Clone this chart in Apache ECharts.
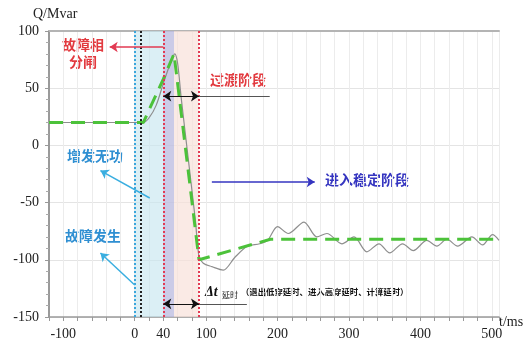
<!DOCTYPE html>
<html><head><meta charset="utf-8">
<script src="https://cdn.jsdelivr.net/npm/echarts@6/dist/echarts.min.js"></script>
<style>html,body{margin:0;padding:0;background:#fff}#c{width:528px;height:345px}</style>
</head><body><div id="c"></div>
<script>
// ---- data ----
const xTickLabels = [-100, 0, 40, 100, 200, 300, 400, 500];
const yTickLabels = [-150, -100, -50, 0, 50, 100];
const idealT = [-120, 12, 40, 55, 90, 190, 510];
const idealQ = [20, 20, 58, 80, -100, -82, -82];
const actualT = [-120, 12, 20, 30, 40, 50, 56, 60, 65, 75, 85, 90, 96, 108, 124, 140, 158, 175, 186, 200, 215, 237, 255, 269, 290, 307, 325, 342, 357, 375, 390, 409, 423, 437, 452, 472, 487, 501, 510];
const actualQ = [20, 20, 24, 35, 54, 72, 80, 72, 42, -12, -66, -97, -103, -106, -109, -98, -88, -86, -83, -71, -77, -67, -80, -77, -86, -80, -93, -86, -94, -86, -92, -83, -88, -82, -88, -80, -87, -78, -83];
const bandRanges = [[0, 40], [40, 55], [55, 90]];
const markerTimes = [0, 8, 40, 90];

const bandColors = ['rgba(200,230,240,0.65)', 'rgba(190,190,225,0.8)', 'rgba(248,225,218,0.7)'];
const markerColors = ['#3aa6dc', '#222222', '#e23a52', '#e23a52'];

const chart = echarts.init(document.getElementById('c'));
const serif = '"Liberation Serif", "DejaVu Serif", serif';
const cjk = '"Noto Sans CJK SC", sans-serif';

function zip(a, b) { return a.map((v, i) => [v, b[i]]); }

const arrowLines = [
  // fault phase open arrow (to left)
  {coords: [[40, 86], [-35, 86]], color: '#e23a52', sym: ['none', 'arrow'], w: 1.5},
  // 增发无功 arrow
  {coords: [[21, -46], [-48, -22]], color: '#3aaee0', sym: ['none', 'arrow'], w: 1.5},
  // 故障发生 arrow
  {coords: [[0, -122], [-48, -94]], color: '#3aaee0', sym: ['none', 'arrow'], w: 1.5},
  // 进入稳定阶段 arrow
  {coords: [[108, -32], [252, -32]], color: '#3535c0', sym: ['none', 'arrow'], w: 1.5},
  // transition double arrow
  {coords: [[40, 43], [90, 43]], color: '#111', sym: ['arrow', 'arrow'], w: 1.2},
  {coords: [[90, 43], [189, 43]], color: '#555', sym: ['none', 'none'], w: 1.2},
  // delay double arrow
  {coords: [[40, -138.5], [90, -138.5]], color: '#111', sym: ['arrow', 'arrow'], w: 1.2},
  {coords: [[90, -138.5], [157, -138.5]], color: '#555', sym: ['none', 'none'], w: 1.2}
];

const option = {
  animation: false,
  grid: {left: 49, right: 29, top: 31, bottom: 28},
  xAxis: [{
    type: 'value', min: -120, max: 510, interval: 20,
    axisLine: {show: true, onZero: false, lineStyle: {color: '#9a9a9a', width: 1.5}},
    axisTick: {show: true, length: 4, lineStyle: {color: '#999'}},
    axisLabel: {
      color: '#222', fontFamily: serif, fontSize: 14, margin: 10,
      formatter: v => xTickLabels.includes(Math.round(v)) ? String(Math.round(v)) : ''
    },
    splitLine: {show: true, lineStyle: {color: '#ececec', width: 1}}
  }, {
    type: 'value', position: 'top', min: -120, max: 510,
    axisLine: {show: true, onZero: false, lineStyle: {color: '#b4b4b4', width: 2}},
    axisTick: {show: false}, axisLabel: {show: false}, splitLine: {show: false}
  }],
  yAxis: {
    type: 'value', min: -150, max: 100, interval: 50,
    axisLine: {show: true, onZero: false, lineStyle: {color: '#9a9a9a', width: 2}},
    axisTick: {show: true, length: 4, lineStyle: {color: '#999'}},
    minorTick: {show: true, splitNumber: 5, length: 3, lineStyle: {color: '#aaa'}},
    axisLabel: {
      color: '#222', fontFamily: serif, fontSize: 14, margin: 10,
      formatter: v => yTickLabels.includes(Math.round(v)) ? String(Math.round(v)) : ''
    },
    splitLine: {show: true, lineStyle: {color: '#e4e4e4', width: 1}}
  },
  series: [
    {
      type: 'line', data: [], z: 1, silent: true,
      markArea: {
        silent: true,
        data: bandRanges.map((r, i) => [{xAxis: r[0], itemStyle: {color: bandColors[i]}}, {xAxis: r[1]}])
      }
    },
    {
      type: 'line', data: [], z: 2, silent: true,
      markLine: {
        silent: true, symbol: ['none', 'none'], label: {show: false},
        data: markerTimes.map((t, i) => ({xAxis: t, lineStyle: {color: markerColors[i], type: [2, 2], width: 2}}))
      }
    },
    {
      type: 'line', data: zip(actualT, actualQ), smooth: 0.3, symbol: 'none', z: 3,
      lineStyle: {color: '#8e8e8e', width: 1.2}
    },
    {
      type: 'line', data: zip(idealT, idealQ), symbol: 'none', z: 4,
      lineStyle: {color: '#4cc23a', width: 3, type: [14, 8]}
    },
    {
      type: 'line', data: [], z: 5, silent: true,
      markLine: {
        silent: true, label: {show: false}, symbolSize: 8,
        data: arrowLines.map(a => [
          {coord: a.coords[0], symbol: a.sym[0], lineStyle: {color: a.color, width: a.w, type: 'solid'}, itemStyle: {color: a.color}},
          {coord: a.coords[1], symbol: a.sym[1]}
        ])
      }
    }
  ],
  graphic: [
    {type: 'text', left: 33, top: 7, style: {text: 'Q/Mvar', font: '14px ' + serif, fill: '#222'}},
    {type: 'text', left: 499, top: 315, style: {text: 't/ms', font: '14px ' + serif, fill: '#222'}},
    {type: 'text', left: 62, top: 38, style: {text: '故障相', font: 'bold 14px ' + cjk, fill: '#e23a3f'}},
    {type: 'text', left: 69, top: 55, style: {text: '分闸', font: 'bold 14px ' + cjk, fill: '#e23a3f'}},
    {type: 'text', left: 210, top: 73, style: {text: '过渡阶段', font: 'bold 14px ' + cjk, fill: '#e23a3f'}},
    {type: 'text', left: 67, top: 149, style: {text: '增发无功', font: 'bold 14px ' + cjk, fill: '#2f8fd2'}},
    {type: 'text', left: 65, top: 229, style: {text: '故障发生', font: 'bold 14px ' + cjk, fill: '#2f8fd2'}},
    {type: 'text', left: 325, top: 173, style: {text: '进入稳定阶段', font: 'bold 14px ' + cjk, fill: '#3535c0'}},
    {type: 'text', left: 205, top: 285, style: {text: 'Δt', font: 'bold italic 14px ' + serif, fill: '#111'}},
    {type: 'text', left: 222, top: 291, style: {text: '延时', font: '8px ' + cjk, fill: '#111'}},
    {type: 'text', left: 241, top: 288, style: {text: '（退出低穿延时、进入高穿延时、计算延时）', font: 'bold 8.4px ' + cjk, fill: '#111'}}
  ]
};
chart.setOption(option);
</script>
</body></html>
